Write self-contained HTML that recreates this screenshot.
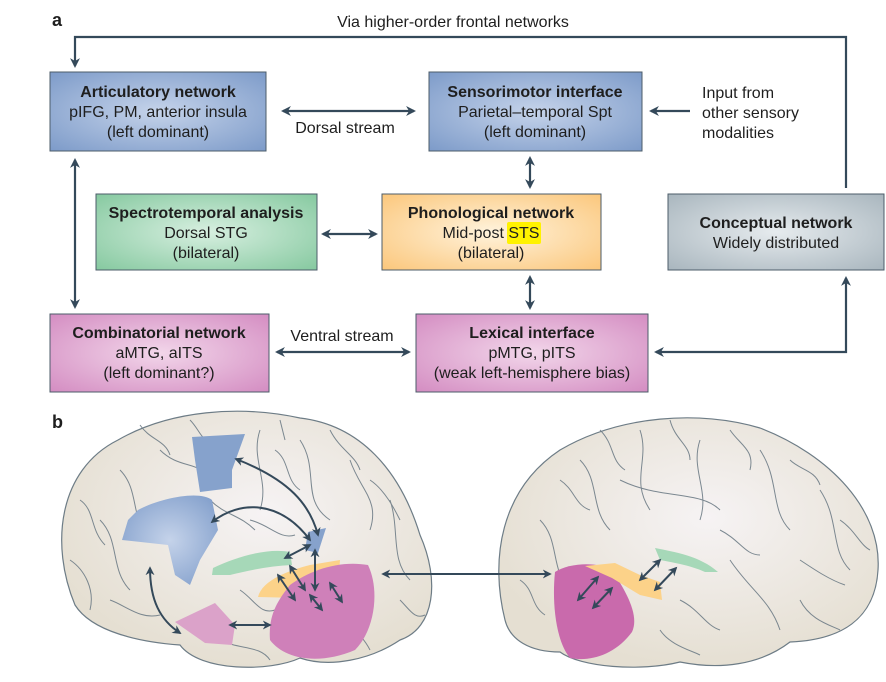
<!DOCTYPE html>
<html><head><meta charset="utf-8"><style>
body{margin:0;background:#fff;}
svg text{font-family:"Liberation Sans",sans-serif;fill:#1e1e1e;}
</style></head><body>
<svg width="886" height="677" viewBox="0 0 886 677" xmlns="http://www.w3.org/2000/svg">
<defs>
<marker id="a" viewBox="0 0 10 10" refX="8" refY="5" markerWidth="4.5" markerHeight="4.5" orient="auto-start-reverse"><path d="M0,0 L10,5 L0,10 L3,5 Z" fill="#34495a"/></marker>
<radialGradient id="gb" cx="50%" cy="50%" r="70%"><stop offset="0" stop-color="#c5d3ea"/><stop offset="1" stop-color="#7d9bc9"/></radialGradient>
<radialGradient id="gg" cx="50%" cy="50%" r="70%"><stop offset="0" stop-color="#d7efe0"/><stop offset="1" stop-color="#86c9a0"/></radialGradient>
<radialGradient id="go" cx="50%" cy="50%" r="70%"><stop offset="0" stop-color="#fff3dc"/><stop offset="1" stop-color="#fbc77c"/></radialGradient>
<radialGradient id="gy" cx="50%" cy="50%" r="70%"><stop offset="0" stop-color="#e6ebee"/><stop offset="1" stop-color="#a9b6be"/></radialGradient>
<radialGradient id="gp" cx="50%" cy="50%" r="70%"><stop offset="0" stop-color="#f2d6ea"/><stop offset="1" stop-color="#d48dc2"/></radialGradient>
<radialGradient id="br" cx="55%" cy="40%" r="60%"><stop offset="0" stop-color="#f6f3f4"/><stop offset="1" stop-color="#e5dfd2"/></radialGradient>
</defs>
<text x="52" y="26" font-size="18" font-weight="bold">a</text>
<text x="453" y="27" font-size="16" text-anchor="middle">Via higher-order frontal networks</text>
<g stroke="#34495a" stroke-width="2.2" fill="none">
<path d="M846,188 V37 H75 V66" marker-end="url(#a)"/>
<line x1="283" y1="111" x2="414" y2="111" marker-start="url(#a)" marker-end="url(#a)"/>
<line x1="690" y1="111" x2="651" y2="111" marker-end="url(#a)"/>
<line x1="530" y1="158" x2="530" y2="187" marker-start="url(#a)" marker-end="url(#a)"/>
<line x1="75" y1="160" x2="75" y2="307" marker-start="url(#a)" marker-end="url(#a)"/>
<line x1="323" y1="234" x2="376" y2="234" marker-start="url(#a)" marker-end="url(#a)"/>
<line x1="530" y1="277" x2="530" y2="308" marker-start="url(#a)" marker-end="url(#a)"/>
<line x1="277" y1="352" x2="409" y2="352" marker-start="url(#a)" marker-end="url(#a)"/>
<path d="M846,278 V352 H656" marker-start="url(#a)" marker-end="url(#a)"/>
</g>
<text x="345" y="133" font-size="16" text-anchor="middle">Dorsal stream</text>
<text x="342" y="341" font-size="16" text-anchor="middle">Ventral stream</text>
<text x="702" y="98" font-size="16">Input from</text>
<text x="702" y="118" font-size="16">other sensory</text>
<text x="702" y="138" font-size="16">modalities</text>
<g stroke="#4c5c6a" stroke-width="1">
<rect x="50" y="72" width="216" height="79" fill="url(#gb)"/>
<rect x="429" y="72" width="213" height="79" fill="url(#gb)"/>
<rect x="96" y="194" width="221" height="76" fill="url(#gg)"/>
<rect x="382" y="194" width="219" height="76" fill="url(#go)"/>
<rect x="668" y="194" width="216" height="76" fill="url(#gy)"/>
<rect x="50" y="314" width="219" height="78" fill="url(#gp)"/>
<rect x="416" y="314" width="232" height="78" fill="url(#gp)"/>
</g>
<rect x="507" y="222" width="34" height="22" fill="#fff200" rx="2"/>
<g font-size="16" text-anchor="middle">
<text x="158" y="97" font-weight="bold">Articulatory network</text>
<text x="158" y="117">pIFG, PM, anterior insula</text>
<text x="158" y="137">(left dominant)</text>
<text x="535" y="97" font-weight="bold">Sensorimotor interface</text>
<text x="535" y="117">Parietal–temporal Spt</text>
<text x="535" y="137">(left dominant)</text>
<text x="206" y="218" font-weight="bold">Spectrotemporal analysis</text>
<text x="206" y="238">Dorsal STG</text>
<text x="206" y="258">(bilateral)</text>
<text x="491" y="218" font-weight="bold">Phonological network</text>
<text x="491" y="238">Mid-post STS</text>
<text x="491" y="258">(bilateral)</text>
<text x="776" y="228" font-weight="bold">Conceptual network</text>
<text x="776" y="248">Widely distributed</text>
<text x="159" y="338" font-weight="bold">Combinatorial network</text>
<text x="159" y="358">aMTG, aITS</text>
<text x="159" y="378">(left dominant?)</text>
<text x="532" y="338" font-weight="bold">Lexical interface</text>
<text x="532" y="358">pMTG, pITS</text>
<text x="532" y="378">(weak left-hemisphere bias)</text>
</g>
<text x="52" y="428" font-size="18" font-weight="bold">b</text>
<path d="M75,605 C50,545 58,470 118,440 C170,410 240,405 300,418 C360,425 400,470 420,535 C440,580 435,628 400,640 C370,660 330,668 300,658 C270,672 200,672 180,645 C140,642 92,632 75,605 Z" fill="url(#br)" stroke="#6d7c86" stroke-width="1.2"/>
<path d="M505,620 C490,560 500,490 560,450 C620,415 700,410 760,428 C830,455 882,510 878,570 C875,620 840,640 790,642 C760,665 720,670 680,662 C640,672 580,667 560,652 C530,652 510,640 505,620 Z" fill="url(#br)" stroke="#6d7c86" stroke-width="1.2"/>
<g stroke="#6f7d87" stroke-width="1" fill="none" opacity="0.9">
<path d="M120,470 C140,490 130,520 150,540 M100,520 C120,540 110,570 130,590 M260,430 C250,460 270,480 260,510 M300,440 C320,470 300,500 330,520 M350,460 C360,490 380,500 370,530 M390,500 C400,530 390,560 410,580 M160,450 C180,470 200,460 210,480 M330,600 C340,620 360,630 370,650 M220,640 C240,650 260,645 270,660"/>
<path d="M80,500 C95,510 90,530 105,545 M70,560 C85,570 95,590 90,610 M140,425 C150,440 165,440 170,455 M275,450 C290,460 285,480 300,490 M330,430 C340,450 355,455 360,470 M370,480 C385,490 395,510 400,520 M250,520 C270,525 280,540 295,535 M240,590 C255,600 260,615 275,610 M110,600 C125,605 140,620 160,615 M400,600 C410,610 415,620 425,615 M210,500 C225,515 240,515 255,530 M280,420 L285,440 M190,420 C200,430 200,440 215,445"/>
<path d="M580,460 C600,480 590,510 610,530 M640,430 C650,460 630,480 650,510 M700,440 C690,470 710,490 700,520 M760,450 C780,480 770,510 790,530 M820,490 C840,520 830,550 850,570 M540,520 C560,540 550,570 570,590 M730,560 C750,590 770,600 780,630 M800,600 C810,620 830,625 840,630 M620,480 C660,500 700,490 720,510"/>
<path d="M600,430 C615,445 610,460 625,470 M670,420 C675,440 690,445 690,460 M730,430 C740,445 755,450 750,470 M790,460 C800,470 815,470 820,485 M840,520 C855,530 860,545 870,550 M720,530 C740,540 745,555 760,555 M680,600 C700,610 705,625 720,630 M520,580 C535,590 530,605 545,615 M560,480 C575,490 575,505 590,510 M800,560 C815,570 830,580 845,585 M660,630 C670,645 690,650 700,655"/>
</g>
<path d="M192,437 L245,434 L232,470 L232,488 L200,492 L195,460 Z" fill="#86a2cc"/>
<path d="M138,510 C160,498 200,490 212,500 L218,530 L200,560 L190,585 L175,575 L168,545 L122,540 L128,520 Z" fill="url(#gb)"/>
<path d="M308,532 L326,528 L318,553 L305,550 Z" fill="#86a2cc"/>
<path d="M213,568 C240,555 270,548 290,552 L292,565 C270,566 250,570 230,575 L212,575 Z" fill="#a6d8b8"/>
<path d="M258,597 C262,580 290,570 310,565 L340,560 L338,585 L300,598 Z" fill="#fcd289"/>
<path d="M290,585 C310,570 340,560 368,565 C380,590 375,630 355,650 C320,665 285,660 270,640 C268,615 278,600 290,585 Z" fill="#cf80b9"/>
<path d="M175,622 L215,603 L235,625 L232,645 L205,643 Z" fill="#dba2c9"/>
<path d="M555,572 C570,562 600,562 612,570 C625,590 640,615 632,632 C615,655 590,662 570,658 C555,640 552,600 555,572 Z" fill="#c96aac"/>
<path d="M585,566 L615,563 L640,575 L660,582 L662,600 L640,595 L612,578 Z" fill="#fcd289"/>
<path d="M655,548 C675,552 700,556 718,572 L705,572 C690,565 670,562 660,560 Z" fill="#a6d8b8"/>
<g stroke="#34495a" stroke-width="2" fill="none">
<path d="M236,459 C290,480 310,505 318,535" marker-start="url(#a)" marker-end="url(#a)"/>
<path d="M212,522 C240,500 280,500 310,540" marker-start="url(#a)" marker-end="url(#a)"/>
<path d="M150,568 C150,600 160,620 180,633" marker-start="url(#a)" marker-end="url(#a)"/>
<line x1="230" y1="625" x2="270" y2="625" marker-start="url(#a)" marker-end="url(#a)"/>
<line x1="285" y1="558" x2="310" y2="545" marker-start="url(#a)" marker-end="url(#a)"/>
<line x1="278" y1="575" x2="295" y2="600" marker-start="url(#a)" marker-end="url(#a)"/>
<line x1="290" y1="566" x2="305" y2="590" marker-start="url(#a)" marker-end="url(#a)"/>
<line x1="315" y1="550" x2="315" y2="590" marker-start="url(#a)" marker-end="url(#a)"/>
<line x1="310" y1="595" x2="322" y2="610" marker-start="url(#a)" marker-end="url(#a)"/>
<line x1="330" y1="583" x2="342" y2="602" marker-start="url(#a)" marker-end="url(#a)"/>
<line x1="383" y1="574" x2="550" y2="574" marker-start="url(#a)" marker-end="url(#a)"/>
<line x1="578" y1="600" x2="598" y2="577" marker-start="url(#a)" marker-end="url(#a)"/>
<line x1="593" y1="608" x2="612" y2="588" marker-start="url(#a)" marker-end="url(#a)"/>
<line x1="640" y1="580" x2="660" y2="560" marker-start="url(#a)" marker-end="url(#a)"/>
<line x1="655" y1="590" x2="676" y2="568" marker-start="url(#a)" marker-end="url(#a)"/>
</g>
</svg>
</body></html>
